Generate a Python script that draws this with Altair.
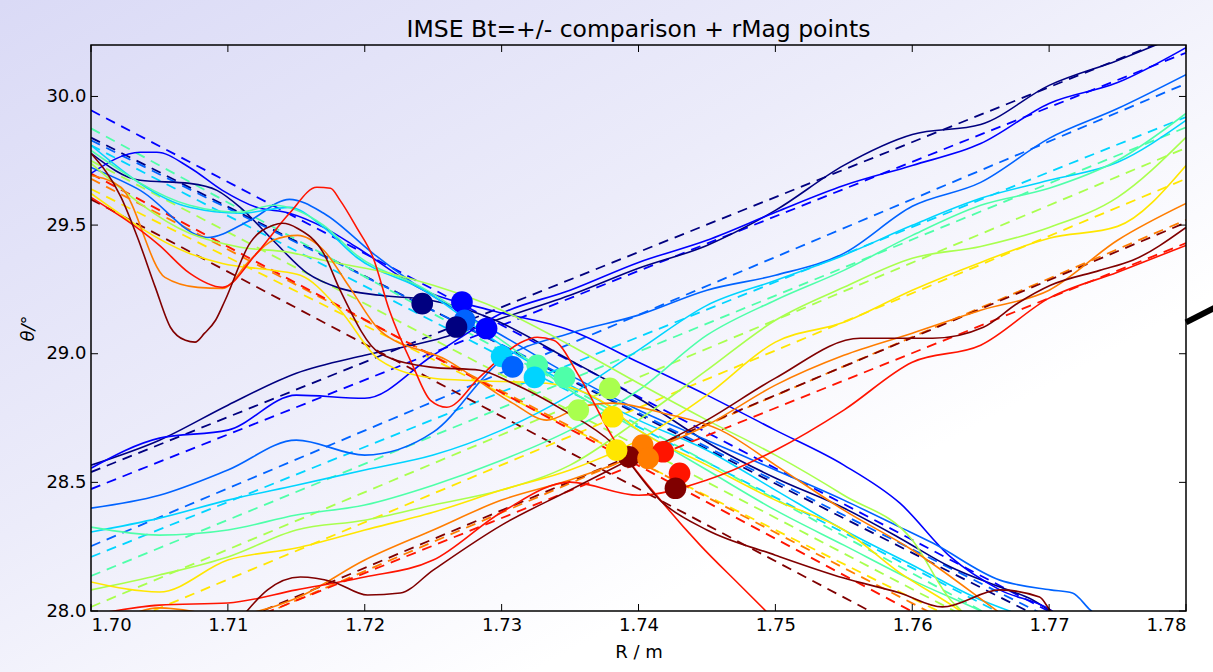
import altair as alt
import pandas as pd

# ---------------- axes / layout values ----------------
X_DOMAIN = [1.70, 1.78]
Y_DOMAIN = [28.0, 30.2]
X_TICKS = [1.70, 1.71, 1.72, 1.73, 1.74, 1.75, 1.76, 1.77, 1.78]
Y_TICKS = [28.0, 28.5, 29.0, 29.5, 30.0]
TITLE = "IMSE Bt=+/- comparison + rMag points"
X_TITLE = "R / m"
Y_TITLE = "θ/°"

NAMES = ["c0", "c1", "c2", "c3", "c4", "c5", "c6", "c7", "c8", "c9"]
COLORS = ["#000080", "#0000ff", "#0063ff", "#00d4ff", "#4effa9",
          "#a9ff4e", "#ffe600", "#ff7d00", "#ff1400", "#800000"]

# ---------------- dashed straight lines (value at R=1.70 and R=1.78) ----------------
DASH_UP_LEFT = [28.54, 28.474, 28.252, 28.21, 28.136, 28.016, 27.90, 27.70, 27.72, 27.72]
DASH_UP_RIGHT = [30.25, 30.17, 30.05, 29.92, 29.88, 29.80, 29.68, 29.52, 29.43, 29.51]
DASH_DOWN_LEFT = [29.84, 29.946, 29.83, 29.81, 29.876, 29.75, 29.64, 29.68, 29.70, 29.60]
DASH_DOWN_RIGHT = [27.688, 27.72, 27.71, 27.62, 27.57, 27.53, 27.52, 27.48, 27.43, 27.35]

# ---------------- rising solid curves (on a common R grid) ----------------
GRID = [1.700, 1.705, 1.710, 1.715, 1.720, 1.725, 1.730, 1.735, 1.740,
        1.745, 1.750, 1.755, 1.760, 1.765, 1.770, 1.775, 1.780]
UP_C0 = [28.567, 28.664, 28.800, 28.924, 28.994, 29.052, 29.138, 29.227, 29.332,
         29.421, 29.557, 29.732, 29.852, 29.891, 30.043, 30.140, 30.249]
UP_C1 = [28.555, 28.672, 28.703, 28.839, 28.827, 28.994, 29.157, 29.247, 29.355,
         29.441, 29.550, 29.654, 29.732, 29.817, 29.973, 30.054, 30.190]
UP_C2 = [28.400, 28.450, 28.548, 28.664, 28.606, 28.695, 28.975, 29.080, 29.150,
         29.247, 29.305, 29.390, 29.573, 29.666, 29.837, 29.953, 30.085]
UP_C3 = [28.307, 28.361, 28.431, 28.489, 28.548, 28.606, 28.703, 28.839, 29.014,
         29.188, 29.285, 29.383, 29.499, 29.604, 29.674, 29.744, 29.907]
UP_C4 = [28.326, 28.295, 28.315, 28.373, 28.412, 28.489, 28.586, 28.703, 28.858,
         29.072, 29.208, 29.324, 29.460, 29.577, 29.643, 29.751, 29.934]
UP_C5 = [28.082, 28.140, 28.210, 28.315, 28.353, 28.412, 28.470, 28.567, 28.742,
         28.936, 29.130, 29.258, 29.371, 29.417, 29.491, 29.608, 29.841]
UP_C6 = [28.113, 28.074, 28.198, 28.245, 28.315, 28.384, 28.470, 28.548, 28.664,
         28.839, 29.045, 29.122, 29.247, 29.355, 29.449, 29.495, 29.732]
UP_C7 = [27.887, 28.012, 27.984, 28.050, 28.198, 28.315, 28.431, 28.509, 28.606,
         28.722, 28.878, 28.994, 29.080, 29.169, 29.247, 29.441, 29.584]
UP_C8 = [27.984, 28.023, 28.031, 28.082, 28.132, 28.198, 28.384, 28.501, 28.450,
         28.509, 28.625, 28.781, 28.967, 29.033, 29.216, 29.317, 29.421]
UP_C9_X = [1.700, 1.708, 1.7114, 1.7129, 1.7153, 1.7177, 1.7202, 1.7226, 1.725, 1.730, 1.735,
           1.740, 1.745, 1.750, 1.7562, 1.7615, 1.7652, 1.7677, 1.7701, 1.7737, 1.7761, 1.780]
UP_C9_Y = [27.421, 27.732, 28.000, 28.082, 28.132, 28.113, 28.062, 28.070, 28.159, 28.334, 28.470,
           28.606, 28.742, 28.905, 29.060, 29.060, 29.103, 29.196, 29.266, 29.324, 29.363, 29.491]

# ---------------- falling solid curves ----------------
DOWN_C0_X = [1.700, 1.7036, 1.7072, 1.7092, 1.7109, 1.7133, 1.7158, 1.7182, 1.7211, 1.7248, 1.7292,
             1.735, 1.740, 1.746, 1.750, 1.755, 1.7591, 1.7628, 1.7664, 1.7688, 1.7701, 1.7737]
DOWN_C0_Y = [29.779, 29.674, 29.662, 29.635, 29.569, 29.441, 29.313, 29.254, 29.227, 29.208, 29.138,
             28.975, 28.827, 28.625, 28.517, 28.400, 28.283, 28.171, 28.093, 28.043, 28.000, 27.887]
DOWN_C1_X = [1.700, 1.7036, 1.7048, 1.7072, 1.7096, 1.7121, 1.7145, 1.717, 1.7194, 1.7243, 1.7292,
             1.735, 1.740, 1.745, 1.750, 1.755, 1.7591, 1.7628, 1.7664, 1.7701, 1.7715]
DOWN_C1_Y = [29.701, 29.783, 29.783, 29.724, 29.635, 29.569, 29.546, 29.491, 29.414, 29.247, 29.169,
             29.091, 28.967, 28.839, 28.703, 28.567, 28.419, 28.210, 28.082, 28.004, 27.946]
DOWN_C2_X = [1.700, 1.7036, 1.7085, 1.7116, 1.7145, 1.717, 1.7206, 1.7243, 1.730, 1.735, 1.740,
             1.745, 1.750, 1.755, 1.7591, 1.7615, 1.7664, 1.7701, 1.7717, 1.773, 1.7744]
DOWN_C2_Y = [29.724, 29.635, 29.452, 29.518, 29.600, 29.546, 29.390, 29.247, 29.072, 28.917, 28.781,
             28.664, 28.548, 28.431, 28.326, 28.264, 28.120, 28.082, 28.070, 28.004, 27.946]
DOWN_C3_X = [1.700, 1.7072, 1.7109, 1.7145, 1.717, 1.7194, 1.7243, 1.730, 1.735, 1.740, 1.745,
             1.750, 1.755, 1.760, 1.765, 1.7671, 1.770]
DOWN_C3_Y = [29.810, 29.569, 29.546, 29.569, 29.491, 29.375, 29.247, 29.033, 28.878, 28.742, 28.625,
             28.470, 28.315, 28.179, 28.043, 28.000, 27.926]
DOWN_C4_X = [1.700, 1.7072, 1.7109, 1.7133, 1.717, 1.7194, 1.7243, 1.730, 1.735, 1.740, 1.745,
             1.750, 1.755, 1.760, 1.765, 1.7671]
DOWN_C4_Y = [29.790, 29.577, 29.550, 29.577, 29.499, 29.383, 29.254, 29.052, 28.858, 28.703, 28.548,
             28.392, 28.256, 28.120, 28.000, 27.946]
DOWN_C5_X = [1.700, 1.7072, 1.7109, 1.7145, 1.717, 1.7218, 1.725, 1.730, 1.735, 1.740, 1.745,
             1.750, 1.755, 1.760, 1.7628, 1.7636, 1.7650]
DOWN_C5_Y = [29.740, 29.468, 29.414, 29.394, 29.363, 29.313, 29.266, 29.169, 29.033, 28.885, 28.742,
             28.606, 28.450, 28.276, 28.043, 28.000, 27.890]
DOWN_C6_X = [1.700, 1.7072, 1.7096, 1.7133, 1.7153, 1.7182, 1.7211, 1.725, 1.7272, 1.7333, 1.7372,
             1.740, 1.745, 1.750, 1.755, 1.7591, 1.7635, 1.7650]
DOWN_C6_Y = [29.623, 29.390, 29.351, 29.324, 29.305, 29.169, 28.975, 28.905, 28.897, 28.885, 28.819,
             28.703, 28.567, 28.431, 28.315, 28.148, 28.000, 27.940]
DOWN_C7_X = [1.700, 1.7022, 1.7054, 1.7078, 1.7096, 1.7116, 1.7133, 1.7151, 1.717, 1.7189, 1.7211,
             1.726, 1.7308, 1.7333, 1.7357, 1.7381, 1.7418, 1.746, 1.750, 1.755, 1.760, 1.7662, 1.768]
DOWN_C7_Y = [29.693, 29.647, 29.297, 29.258, 29.254, 29.363, 29.441, 29.460, 29.402, 29.258, 29.091,
             28.975, 28.808, 28.742, 28.792, 28.808, 28.769, 28.703, 28.567, 28.392, 28.237, 28.000, 27.930]
DOWN_C8_X = [1.700, 1.705, 1.7072, 1.7096, 1.7121, 1.7145, 1.7165, 1.7175, 1.7182, 1.7194, 1.7206,
             1.7218, 1.7235, 1.7248, 1.726, 1.7284, 1.7313, 1.7326, 1.7338, 1.7357, 1.7381, 1.7418,
             1.7445, 1.7474, 1.7496]
DOWN_C8_Y = [29.608, 29.421, 29.313, 29.258, 29.390, 29.546, 29.647, 29.643, 29.596, 29.491, 29.375,
             29.169, 28.955, 28.819, 28.792, 28.909, 29.041, 29.064, 29.052, 28.909, 28.676, 28.419,
             28.256, 28.101, 27.984]
DOWN_C9_X = [1.700, 1.7022, 1.7034, 1.7047, 1.7058, 1.7069, 1.7076, 1.7083, 1.7091, 1.7098, 1.7116,
             1.7133, 1.714, 1.7151, 1.717, 1.7182, 1.7211, 1.7248, 1.7284, 1.7308, 1.7345, 1.7381,
             1.7418, 1.745, 1.750, 1.755, 1.7591, 1.7622, 1.7664, 1.7693, 1.7701, 1.7715]
DOWN_C9_Y = [29.779, 29.608, 29.452, 29.258, 29.103, 29.052, 29.045, 29.080, 29.130, 29.208, 29.429,
             29.499, 29.507, 29.487, 29.390, 29.247, 29.002, 28.948, 28.936, 28.885, 28.781, 28.652,
             28.419, 28.315, 28.217, 28.128, 28.070, 28.016, 28.082, 28.054, 28.000, 27.926]

# ---------------- rMag points ----------------
PT_X = [1.7242, 1.7271, 1.7273, 1.7300, 1.7326, 1.7379, 1.7381, 1.7403, 1.7418, 1.7393,
        1.7267, 1.7289, 1.7308, 1.7324, 1.7346, 1.7356, 1.7384, 1.7407, 1.7430, 1.7427]
PT_Y = [29.195, 29.201, 29.130, 28.990, 28.955, 28.865, 28.755, 28.645, 28.619, 28.599,
        29.104, 29.098, 28.949, 28.908, 28.908, 28.781, 28.625, 28.593, 28.535, 28.477]
PT_C = NAMES + NAMES

# stray thick black stroke at the right edge (outside the axes)
EDGE_X = [1.7800, 1.7825]
EDGE_Y = [29.122, 29.190]

# ---------------- build tables ----------------
up_solid = {"c0": (GRID, UP_C0), "c1": (GRID, UP_C1), "c2": (GRID, UP_C2), "c3": (GRID, UP_C3),
            "c4": (GRID, UP_C4), "c5": (GRID, UP_C5), "c6": (GRID, UP_C6), "c7": (GRID, UP_C7),
            "c8": (GRID, UP_C8), "c9": (UP_C9_X, UP_C9_Y)}
down_solid = {"c0": (DOWN_C0_X, DOWN_C0_Y), "c1": (DOWN_C1_X, DOWN_C1_Y), "c2": (DOWN_C2_X, DOWN_C2_Y),
              "c3": (DOWN_C3_X, DOWN_C3_Y), "c4": (DOWN_C4_X, DOWN_C4_Y), "c5": (DOWN_C5_X, DOWN_C5_Y),
              "c6": (DOWN_C6_X, DOWN_C6_Y), "c7": (DOWN_C7_X, DOWN_C7_Y), "c8": (DOWN_C8_X, DOWN_C8_Y),
              "c9": (DOWN_C9_X, DOWN_C9_Y)}

rows = []
for name in NAMES:
    for kind, src in (("up", up_solid), ("down", down_solid)):
        xs_, ys_ = src[name]
        for xv, yv in zip(xs_, ys_):
            rows.append({"x": xv, "y": yv, "c": name, "s": f"{name}-{kind}"})
solid_df = pd.DataFrame(rows)

drows = []
for i, name in enumerate(NAMES):
    drows += [{"x": X_DOMAIN[0], "y": DASH_UP_LEFT[i], "c": name, "s": f"{name}-du"},
              {"x": X_DOMAIN[1], "y": DASH_UP_RIGHT[i], "c": name, "s": f"{name}-du"},
              {"x": X_DOMAIN[0], "y": DASH_DOWN_LEFT[i], "c": name, "s": f"{name}-dd"},
              {"x": X_DOMAIN[1], "y": DASH_DOWN_RIGHT[i], "c": name, "s": f"{name}-dd"}]
dash_df = pd.DataFrame(drows)
pts_df = pd.DataFrame({"x": PT_X, "y": PT_Y, "c": PT_C})
edge_df = pd.DataFrame({"x": EDGE_X, "y": EDGE_Y})
xt_df = pd.DataFrame({"x": X_TICKS})
yt_df = pd.DataFrame({"y": Y_TICKS})

W, H = 1095, 566
PAD = {"left": 91, "top": 45, "right": 27, "bottom": 61}
FONT = "DejaVu Sans"

xs = alt.Scale(domain=X_DOMAIN, nice=False, zero=False)
ys = alt.Scale(domain=Y_DOMAIN, nice=False, zero=False)
cs = alt.Scale(domain=NAMES, range=COLORS)

xaxis = alt.Axis(values=X_TICKS, format=".2f", ticks=False, tickSize=0, domain=False, grid=False,
                 labelFont=FONT, labelFontSize=18, labelColor="black", labelPadding=5,
                 title=X_TITLE, titleFont=FONT, titleFontSize=18, titleFontWeight="normal",
                 titleColor="black", titlePadding=9, zindex=2)
yaxis = alt.Axis(values=Y_TICKS, format=".1f", ticks=False, tickSize=0, domain=False, grid=False,
                 labelFont=FONT, labelFontSize=18, labelColor="black", labelPadding=5,
                 title=Y_TITLE, titleFont=FONT, titleFontSize=18, titleFontWeight="normal",
                 titleFontStyle="italic", titleColor="black", titlePadding=8, zindex=2)

X = lambda f="x": alt.X(f"{f}:Q", scale=xs, axis=xaxis)
Y = lambda f="y": alt.Y(f"{f}:Q", scale=ys, axis=yaxis)

bg = alt.Chart(pd.DataFrame({"k": [0]})).mark_rect(
    fill=alt.Gradient(gradient="linear", x1=0, y1=0, x2=1, y2=1,
                      stops=[alt.GradientStop(color="#dadaf6", offset=0),
                             alt.GradientStop(color="#ececfa", offset=0.4),
                             alt.GradientStop(color="#ffffff", offset=0.72)]),
    strokeWidth=0
).encode(x=alt.value(-PAD["left"]), x2=alt.value(W + PAD["right"]),
         y=alt.value(-PAD["top"]), y2=alt.value(H + PAD["bottom"]))

title_txt = alt.Chart(pd.DataFrame({"t": [TITLE]})).mark_text(
    font=FONT, fontSize=23.5, color="black", align="center", baseline="alphabetic"
).encode(text="t:N", x=alt.value(W / 2), y=alt.value(-8))

solid = alt.Chart(solid_df).mark_line(strokeWidth=1.6, clip=True, interpolate="monotone").encode(
    x=X(), y=Y(), color=alt.Color("c:N", scale=cs, legend=None), detail="s:N")
dashed = alt.Chart(dash_df).mark_line(strokeWidth=1.8, clip=True, strokeDash=[10, 7]).encode(
    x=X(), y=Y(), color=alt.Color("c:N", scale=cs, legend=None), detail="s:N")
points = alt.Chart(pts_df).mark_circle(size=470, opacity=1).encode(
    x=X(), y=Y(), color=alt.Color("c:N", scale=cs, legend=None))
edge = alt.Chart(edge_df).mark_line(strokeWidth=6, color="black", clip=False).encode(x=X(), y=Y())

tb = alt.Chart(xt_df).mark_rule(color="black", strokeWidth=1).encode(
    x=X(), y=alt.value(H), y2=alt.value(H - 7))
tt = alt.Chart(xt_df).mark_rule(color="black", strokeWidth=1).encode(
    x=X(), y=alt.value(0), y2=alt.value(7))
tl = alt.Chart(yt_df).mark_rule(color="black", strokeWidth=1).encode(
    y=Y(), x=alt.value(0), x2=alt.value(7))
tr = alt.Chart(yt_df).mark_rule(color="black", strokeWidth=1).encode(
    y=Y(), x=alt.value(W), x2=alt.value(W - 7))
frame = alt.Chart(pd.DataFrame({"k": [0]})).mark_rect(
    fillOpacity=0, stroke="black", strokeWidth=1.5
).encode(x=alt.value(0), x2=alt.value(W), y=alt.value(0), y2=alt.value(H))

chart = alt.layer(bg, title_txt, dashed, solid, points, edge, tb, tt, tl, tr, frame).properties(
    width=W, height=H,
    autosize=alt.AutoSizeParams(type="none"),
    padding=PAD,
    background="white",
).configure_view(stroke=None)

chart.save("out.html", embed_options={"renderer": "svg", "actions": False})
